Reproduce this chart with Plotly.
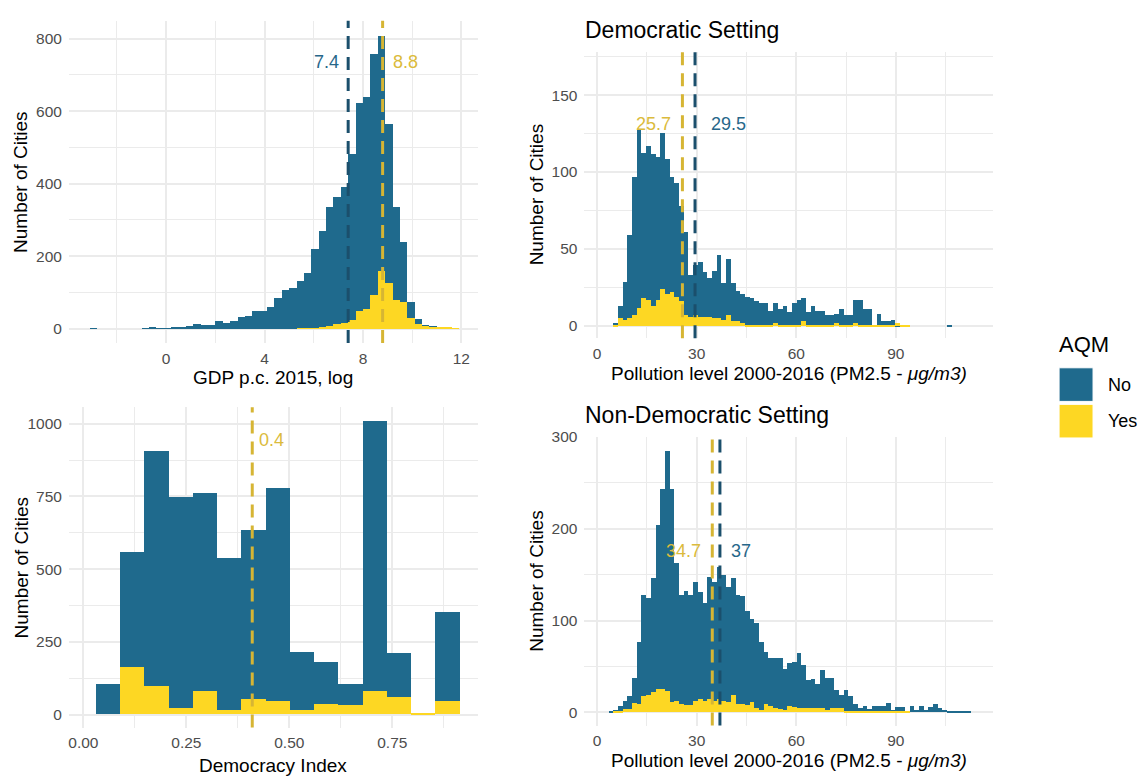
import numpy as np
import plotly.graph_objects as go

# ---------------- data ----------------
gdp_bin_start = -3.1
gdp_bin_width = 0.3
gdp_all = [1, 0, 0, 0, 0, 0, 0, 2, 4, 1, 2, 6, 6, 7, 12, 10, 10, 21, 16, 22,
           32, 34, 50, 50, 59, 85, 106, 112, 131, 154, 219, 269, 337, 363, 392,
           481, 623, 638, 759, 809, 564, 337, 238, 74, 27, 11, 8, 4, 3, 1]
gdp_yes = [0] * 28 + [1, 1, 1, 6, 8, 14, 17, 25, 50, 54, 94, 160, 127, 79, 75,
                      29, 13, 8, 5, 4, 3, 1]
gdp_mean_no, gdp_mean_yes = 7.4, 8.8

pol_bin_width = 1.417
dem_bin_start = 5.0
dem_all = [2, 13, 29, 59, 97, 128, 113, 117, 112, 110, 126, 109, 97, 93, 78, 61,
           33, 40, 42, 35, 31, 36, 46, 28, 44, 28, 23, 21, 19, 18, 16, 15, 15, 10,
           15, 11, 13, 9, 15, 17, 18, 9, 13, 10, 10, 7, 7, 8, 11, 7, 7, 17, 17, 11,
           11, 1, 8, 3, 3, 4, 1, 1, 1, 0, 0, 0, 0, 0, 0, 0, 0, 1]
dem_yes = [1, 5, 4, 5, 7, 12, 18, 17, 13, 17, 24, 21, 22, 19, 16, 7, 6, 7, 6, 6,
           6, 5, 5, 4, 7, 3, 3, 2, 1, 1,
           1, 1, 1, 1, 2, 1, 1, 1, 1, 1, 3, 1, 1, 1, 1, 1, 1, 2, 1, 1, 1, 2, 1, 1,
           1, 1, 1, 1, 1, 1, 2, 1, 1] + [0] * 9
dem_mean_no, dem_mean_yes = 29.5, 25.7

di_bin_start = 0.030
di_bin_width = 0.0589
di_all = [103, 557, 905, 748, 759, 536, 635, 777, 216, 179, 103, 1007, 210, 5, 351]
di_yes = [0, 162, 97, 23, 82, 14, 52, 45, 16, 36, 31, 79, 60, 5, 46]
di_mean_yes = 0.41

nd_bin_start = 5.0 - 1.417
nd_all = [2, 3, 7, 13, 18, 38, 77, 128, 125, 147, 204, 243, 285, 243, 163, 128,
          132, 128, 142, 131, 119, 148, 142, 158, 150, 137, 146, 128, 127, 110,
          102, 97, 77, 66, 59, 59, 59, 47, 54, 55, 65, 52, 35, 37, 31, 46, 38, 38,
          25, 19, 24, 18, 9, 5, 7, 4, 7, 7, 7, 10, 3, 6, 6, 1, 7, 3, 7, 3, 6, 9,
          5, 3, 2, 1, 1, 1, 2]
nd_yes = [0, 1, 2, 4, 4, 10, 9, 18, 19, 22, 26, 26, 23, 11, 12, 9, 8, 8, 13, 15,
          13, 15, 13, 15, 13, 11, 19, 9, 9, 8, 11, 5, 3, 9, 7, 5, 4, 3, 7, 6, 5,
          5, 5, 5, 5, 5, 3, 5, 5, 5, 2, 1, 2, 1, 1, 2, 2, 2, 2, 1, 1, 1, 1, 1] + [0] * 13
nd_mean_no, nd_mean_yes = 37.0, 34.7

groups = ["No", "Yes"]

# ---------------- styling ----------------
W, H = 1142, 776
BLUE = "#1f6a8d"
YELLOW = "#fdd723"
BLUE_LINE = "#1b4f6c"
GOLD_LINE = "#d6b534"
BLUE_TXT = "#27678a"
GOLD_TXT = "#dbbb3c"
FONT = "Liberation Sans, Arial, sans-serif"
GRID = "#ebebeb"


def px_x(x):
    return x / W


def px_y(y):
    return 1 - y / H


def centers(start, width, n):
    return start + width * (np.arange(n) + 0.5)


fig = go.Figure()

panels = [
    ("", gdp_bin_start, gdp_bin_width, gdp_all, gdp_yes),
    ("2", dem_bin_start, pol_bin_width, dem_all, dem_yes),
    ("3", di_bin_start, di_bin_width, di_all, di_yes),
    ("4", nd_bin_start, pol_bin_width, nd_all, nd_yes),
]

for suf, start, width, allv, yesv in panels:
    xc = centers(start, width, len(allv))
    fig.add_trace(go.Bar(x=xc, y=allv, width=width, marker=dict(color=BLUE, line=dict(width=0)),
                         name=groups[0], showlegend=False,
                         xaxis="x" + suf, yaxis="y" + suf))
    xc2 = centers(start, width, len(yesv))
    fig.add_trace(go.Bar(x=xc2, y=yesv, width=width, marker=dict(color=YELLOW, line=dict(width=0)),
                         name=groups[1], showlegend=False,
                         xaxis="x" + suf, yaxis="y" + suf))

dom = {
    "": (68, 477, 12, 338),
    "2": (584, 993, 43, 333),
    "3": (68, 477, 403, 727),
    "4": (584, 993, 433, 725),
}
ranges = {
    "": ([-3.95, 12.66], [-40, 849]),
    "2": ([-3.8, 119.3], [-8.2, 178.5]),
    "3": ([-0.035, 0.957], [-44, 1056]),
    "4": ([-3.8, 119.3], [-14.3, 300]),
}
ticks = {
    "": (4, 2, 200, 100, None),
    "2": (30, 15, 50, 25, None),
    "3": (0.25, 0.125, 250, 125, ".2f"),
    "4": (30, 15, 100, 50, None),
}

layout = dict(
    width=W, height=H, margin=dict(l=0, r=0, t=0, b=0),
    paper_bgcolor="white", plot_bgcolor="white",
    barmode="overlay", bargap=0, showlegend=False,
    font=dict(family=FONT),
)
for suf in ["", "2", "3", "4"]:
    l, r, t, b = dom[suf]
    xr, yr = ranges[suf]
    xd, xm, yd, ym, fmt = ticks[suf]
    xa = dict(domain=[px_x(l), px_x(r)], range=xr, tick0=0, dtick=xd,
              showgrid=True, gridcolor=GRID, gridwidth=1.8, zeroline=False,
              showline=False, ticks="", tickfont=dict(size=15.5, color="#4d4d4d", family=FONT),
              minor=dict(tick0=0, dtick=xm, showgrid=True, gridcolor=GRID, gridwidth=1.0),
              anchor="y" + suf, ticklabelstandoff=4, fixedrange=True)
    if fmt:
        xa["tickformat"] = fmt
    ya = dict(domain=[px_y(b), px_y(t)], range=yr, tick0=0, dtick=yd,
              showgrid=True, gridcolor=GRID, gridwidth=1.8, zeroline=False,
              showline=False, ticks="", tickfont=dict(size=15.5, color="#4d4d4d", family=FONT),
              minor=dict(tick0=0, dtick=ym, showgrid=True, gridcolor=GRID, gridwidth=1.0),
              anchor="x" + suf, ticklabelstandoff=6, fixedrange=True)
    layout["xaxis" + suf] = xa
    layout["yaxis" + suf] = ya

fig.update_layout(**layout)

mean_lines = [
    ("", gdp_mean_no, BLUE_LINE), ("", gdp_mean_yes, GOLD_LINE),
    ("2", dem_mean_yes, GOLD_LINE), ("2", dem_mean_no, BLUE_LINE),
    ("3", di_mean_yes, GOLD_LINE),
    ("4", nd_mean_yes, GOLD_LINE), ("4", nd_mean_no, BLUE_LINE),
]
shapes = []
for suf, v, col in mean_lines:
    shapes.append(dict(type="line", xref="x" + suf, yref=("y" + suf) + " domain",
                       x0=v, x1=v, y0=0, y1=1,
                       line=dict(color=col, width=3, dash="13px,8px")))

# legend keys
shapes.append(dict(type="rect", xref="paper", yref="paper",
                   x0=px_x(1059), x1=px_x(1093), y0=px_y(397), y1=px_y(363),
                   fillcolor=BLUE, line=dict(color="white", width=1)))
shapes.append(dict(type="rect", xref="paper", yref="paper",
                   x0=px_x(1059), x1=px_x(1093), y0=px_y(434), y1=px_y(400),
                   fillcolor=YELLOW, line=dict(color="white", width=1)))
fig.update_layout(shapes=shapes)


def fmt_mean(v):
    s = f"{round(v, 1)}"
    return s[:-2] if s.endswith(".0") else s


ann = []
mean_labels = [
    ("", gdp_mean_no, 736, BLUE_TXT, "right", -7),
    ("", gdp_mean_yes, 736, GOLD_TXT, "left", 8),
    ("2", dem_mean_yes, 131, GOLD_TXT, "right", -9),
    ("2", dem_mean_no, 131, BLUE_TXT, "left", 14),
    ("3", di_mean_yes, 943, GOLD_TXT, "left", 5),
    ("4", nd_mean_yes, 176, GOLD_TXT, "right", -9),
    ("4", nd_mean_no, 176, BLUE_TXT, "left", 9),
]
for suf, v, yv, col, side, sh in mean_labels:
    ann.append(dict(x=v, y=yv, xref="x" + suf, yref="y" + suf, text=fmt_mean(v),
                    showarrow=False, xanchor=side, yanchor="middle", xshift=sh,
                    font=dict(size=18, color=col, family=FONT)))

poll_title = "Pollution level 2000-2016 (PM2.5 - <i>\u03bcg/m3)</i>"
axis_titles = [
    ((68 + 477) / 2, 373, "GDP p.c. 2015, log", 0),
    ((584 + 993) / 2, 369, poll_title, 0),
    ((68 + 477) / 2, 765, "Democracy Index", 0),
    ((584 + 993) / 2, 760, poll_title, 0),
    (20, 175, "Number of Cities", -90),
    (536, 188, "Number of Cities", -90),
    (20, 565, "Number of Cities", -90),
    (536, 579, "Number of Cities", -90),
]
for x, y, txt, ang in axis_titles:
    ann.append(dict(x=px_x(x), y=px_y(y), xref="paper", yref="paper", text=txt,
                    showarrow=False, xanchor="center", yanchor="middle", textangle=ang,
                    font=dict(size=19, color="black", family=FONT)))

for y, txt in [(21, "Democratic Setting"), (411, "Non-Democratic Setting")]:
    ann.append(dict(x=px_x(583), y=px_y(y), xref="paper", yref="paper", text=txt,
                    showarrow=False, xanchor="left", yanchor="middle",
                    font=dict(size=23, color="black", family=FONT)))

ann.append(dict(x=px_x(1057), y=px_y(339), xref="paper", yref="paper", text="AQM",
                showarrow=False, xanchor="left", yanchor="middle",
                font=dict(size=22, color="black", family=FONT)))
for y, g in [(380, groups[0]), (417, groups[1])]:
    ann.append(dict(x=px_x(1106), y=px_y(y), xref="paper", yref="paper", text=g,
                    showarrow=False, xanchor="left", yanchor="middle",
                    font=dict(size=18, color="black", family=FONT)))

fig.update_layout(annotations=ann)
fig.write_html("out.html", config={"displayModeBar": False},
               post_script="document.body.style.margin='0';document.body.style.padding='0';")
